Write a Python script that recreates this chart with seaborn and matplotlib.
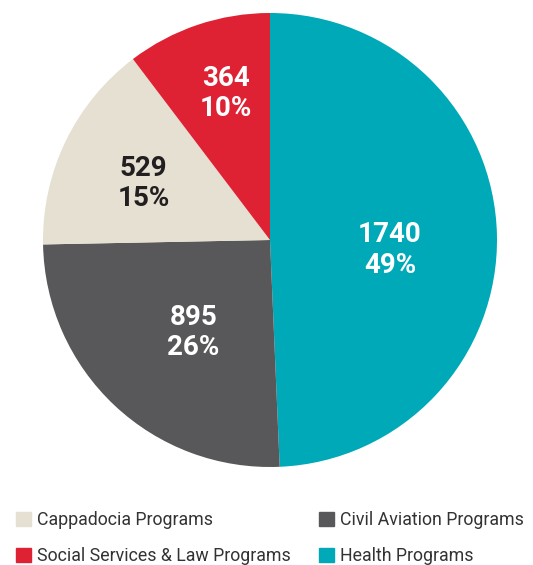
import numpy as np
import seaborn as sns
import matplotlib.pyplot as plt
from matplotlib.patches import Patch

sns.set_theme(style="white")
plt.rcParams['font.family'] = ['Roboto', 'DejaVu Sans']

programs = ["Health Programs", "Civil Aviation Programs", "Cappadocia Programs", "Social Services & Law Programs"]
counts = [1740, 895, 529, 364]
pct_labels = ["49%", "26%", "15%", "10%"]
colors = ["#00A9B8", "#58585A", "#E5E0D2", "#DE2233"]
text_colors = ["white", "white", "#231F20", "white"]
# label placement: fraction of radius and small angle nudge (degrees)
label_dist = [0.53, 0.53, 0.61, 0.675]
label_nudge = [-6, 3.7, 1.7, -1.8]

fig = plt.figure(figsize=(5.33, 5.65), dpi=100)
ax = fig.add_axes([43/533, (565-467)/565, 454/533, 454/565])
wedges, _ = ax.pie(counts, colors=colors, startangle=90, counterclock=False,
                   wedgeprops=dict(linewidth=0))
ax.set_xlim(-1, 1)
ax.set_ylim(-1, 1)
ax.set_aspect("equal")

for w, n, p, tc, d, a in zip(wedges, counts, pct_labels, text_colors, label_dist, label_nudge):
    mid = np.deg2rad((w.theta1 + w.theta2) / 2 + a)
    ax.text(d*np.cos(mid), d*np.sin(mid), f"{n}\n{p}", ha="center", va="center",
            color=tc, fontsize=20, fontweight="bold", linespacing=1.15)

order = [2, 3, 1, 0]
handles = [Patch(color=colors[i]) for i in order]
labels = [programs[i] for i in order]
fig.legend(handles, labels, ncol=2, loc="lower left", bbox_to_anchor=(7/533, -9/565),
           frameon=False, fontsize=12.8, handlelength=0.85, handleheight=0.85,
           handletextpad=0.35, columnspacing=1.55, labelspacing=1.0, borderpad=0,
           labelcolor="#333333")

fig.savefig("out.png", dpi=100)
